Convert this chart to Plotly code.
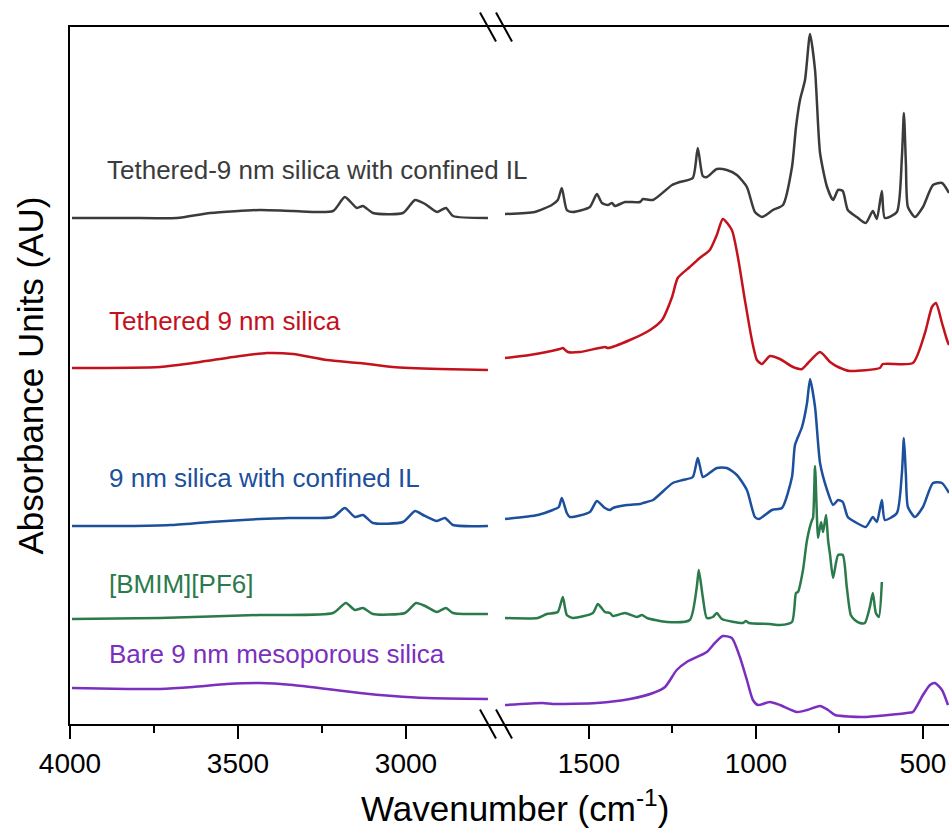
import plotly.graph_objects as go

# FTIR spectra, stacked with vertical offsets (arbitrary absorbance units).
# Wavenumbers in cm^-1; the axis is broken between the C-H region and the fingerprint region.

tethered_il_wn = [3994, 3830, 3682, 3583, 3435, 3336, 3217, 3182, 3146, 3128, 3098, 3009, 2973, 2943, 2908, 2881, 2860, 2756,
                  1751, 1662, 1611, 1593, 1581, 1566, 1548, 1497, 1476, 1461, 1443, 1431, 1422, 1392, 1347, 1338, 1308, 1251,
                  1228, 1189, 1174, 1159, 1147, 1117, 1087, 1057, 1027, 1003, 982, 949, 919, 892, 880, 868, 853, 838, 823,
                  808, 787, 769, 754, 740, 725, 698, 671, 650, 638, 623, 614, 578, 563, 557, 551, 545, 524, 500, 470, 443, 422]
tethered_il_abs = [5.06, 5.06, 5.06, 5.11, 5.14, 5.13, 5.13, 5.27, 5.16, 5.18, 5.11, 5.11, 5.24, 5.20, 5.12, 5.16, 5.08, 5.06,
                   5.10, 5.12, 5.19, 5.24, 5.36, 5.14, 5.12, 5.17, 5.30, 5.21, 5.19, 5.21, 5.18, 5.22, 5.22, 5.25, 5.24, 5.39,
                   5.42, 5.46, 5.76, 5.48, 5.47, 5.55, 5.54, 5.49, 5.37, 5.12, 5.07, 5.14, 5.19, 5.57, 5.97, 6.24, 6.44, 6.90, 6.54,
                   5.71, 5.37, 5.24, 5.34, 5.33, 5.14, 5.07, 5.01, 5.13, 5.05, 5.33, 5.06, 5.12, 5.67, 6.11, 5.60, 5.17, 5.07, 5.17,
                   5.39, 5.41, 5.31]

tethered_wn = [3994, 3732, 3613, 3515, 3414, 3336, 3235, 3137, 3039, 2899, 2756,
               1751, 1677, 1587, 1578, 1563, 1527, 1452, 1443, 1377, 1317, 1281, 1251, 1234, 1198, 1168, 1138, 1117, 1099,
               1072, 1054, 1033, 1012, 997, 982, 958, 928, 889, 862, 844, 808, 778, 754, 719, 629, 620, 530, 494, 473, 461,
               443, 428, 422]
tethered_abs = [3.56, 3.57, 3.62, 3.67, 3.71, 3.70, 3.64, 3.61, 3.57, 3.55, 3.54,
                3.66, 3.69, 3.75, 3.76, 3.72, 3.72, 3.77, 3.76, 3.84, 3.94, 4.04, 4.27, 4.46, 4.57, 4.66, 4.74, 4.89, 5.05,
                4.94, 4.67, 4.24, 3.84, 3.64, 3.60, 3.68, 3.65, 3.57, 3.55, 3.61, 3.72, 3.62, 3.57, 3.53, 3.56, 3.60, 3.61, 3.91,
                4.17, 4.21, 4.01, 3.84, 3.79]

silica_il_wn = [3994, 3830, 3702, 3583, 3435, 3336, 3217, 3182, 3152, 3128, 3098, 3009, 2973, 2949, 2908, 2884, 2860, 2756,
                1751, 1653, 1608, 1590, 1581, 1566, 1557, 1497, 1476, 1452, 1437, 1428, 1386, 1347, 1338, 1308, 1249, 1219,
                1189, 1174, 1159, 1147, 1117, 1087, 1057, 1027, 1003, 991, 952, 922, 892, 883, 862, 847, 838, 823, 808, 787,
                769, 754, 740, 725, 698, 671, 650, 638, 623, 614, 578, 563, 557, 551, 545, 524, 500, 470, 443, 422]
silica_il_abs = [1.98, 1.98, 1.99, 2.02, 2.05, 2.06, 2.07, 2.16, 2.07, 2.09, 2.01, 2.02, 2.13, 2.09, 2.03, 2.06, 1.99, 1.98,
                 2.05, 2.09, 2.14, 2.17, 2.26, 2.11, 2.07, 2.12, 2.23, 2.16, 2.14, 2.16, 2.19, 2.20, 2.21, 2.24, 2.41, 2.44,
                 2.47, 2.66, 2.47, 2.49, 2.56, 2.56, 2.49, 2.34, 2.07, 2.05, 2.14, 2.16, 2.47, 2.79, 2.97, 3.21, 3.45, 3.17, 2.61,
                 2.34, 2.19, 2.24, 2.22, 2.07, 2.01, 1.97, 2.07, 2.02, 2.24, 2.04, 2.11, 2.51, 2.86, 2.49, 2.17, 2.07, 2.17,
                 2.41, 2.41, 2.31]

bmim_wn = [3994, 3732, 3435, 3217, 3179, 3152, 3128, 3098, 3003, 2970, 2943, 2908, 2881, 2860, 2756,
           1751, 1653, 1626, 1593, 1578, 1566, 1548, 1488, 1473, 1452, 1437, 1428, 1392, 1356, 1341, 1326, 1266, 1198,
           1177, 1171, 1159, 1147, 1129, 1117, 1102, 1039, 1030, 1021, 958, 928, 892, 880, 874, 859, 847, 832, 829, 823,
           817, 814, 805, 799, 790, 784, 778, 769, 754, 740, 728, 716, 704, 689, 674, 659, 650, 641, 632, 623]
bmim_abs = [1.05, 1.06, 1.09, 1.11, 1.21, 1.14, 1.16, 1.10, 1.11, 1.21, 1.18, 1.12, 1.16, 1.11, 1.10,
            1.06, 1.06, 1.10, 1.12, 1.27, 1.09, 1.06, 1.11, 1.20, 1.12, 1.11, 1.08, 1.11, 1.07, 1.09, 1.06, 1.02, 1.04,
            1.37, 1.54, 1.27, 1.06, 1.07, 1.11, 1.05, 1.01, 1.03, 1.01, 1.00, 0.99, 1.02, 1.31, 1.32, 1.54, 1.84, 2.04, 2.06,
            2.58, 2.04, 1.86, 2.02, 1.92, 2.09, 1.84, 1.69, 1.46, 1.69, 1.69, 1.37, 1.09, 1.04, 1.01, 1.01, 1.17, 1.31, 1.11,
            1.07, 1.42]

bare_wn = [3994, 3830, 3732, 3634, 3533, 3435, 3336, 3235, 3137, 3039, 2938, 2756,
           1751, 1638, 1608, 1476, 1377, 1308, 1272, 1237, 1207, 1147, 1123, 1099, 1072, 1048, 1027, 1009, 994, 958,
           928, 877, 847, 808, 784, 763, 680, 548, 530, 500, 479, 464, 443, 425]
bare_abs = [0.36, 0.35, 0.35, 0.37, 0.40, 0.41, 0.39, 0.35, 0.31, 0.28, 0.26, 0.25,
            0.19, 0.21, 0.20, 0.21, 0.25, 0.31, 0.37, 0.54, 0.62, 0.72, 0.81, 0.88, 0.86, 0.67, 0.44, 0.24, 0.19, 0.22,
            0.19, 0.12, 0.14, 0.18, 0.14, 0.09, 0.07, 0.11, 0.12, 0.29, 0.39, 0.41, 0.34, 0.19]

sample_names = ["Tethered-9 nm silica with confined IL", "Tethered 9 nm silica", "9 nm silica with confined IL",
                "[BMIM][PF6]", "Bare 9 nm mesoporous silica"]
sample_colors = ["#3b3b3b", "#c3121c", "#1c4f9c", "#2b7a4b", "#7b2fbe"]
sample_wn = [tethered_il_wn, tethered_wn, silica_il_wn, bmim_wn, bare_wn]
sample_abs = [tethered_il_abs, tethered_abs, silica_il_abs, bmim_abs, bare_abs]

high_ticks = [4000, 3500, 3000]
high_minor = [3750, 3250]
low_ticks = [1500, 1000, 500]
low_minor = [1250, 750]

FONT = "Liberation Sans, Arial, sans-serif"
W, H = 949, 835
ML, MR, MT, MB = 70, 0, 27, 111
PW, PH = W - ML - MR, H - MT - MB


def px(x):
    return (x - ML) / PW


def py(y):
    return (H - MB - y) / PH


split = px(496)

fig = go.Figure()
for name, color, wn, ab in zip(sample_names, sample_colors, sample_wn, sample_abs):
    hi = [(w, a) for w, a in zip(wn, ab) if w > 2000]
    lo = [(w, a) for w, a in zip(wn, ab) if w <= 2000]
    for seg, xa in ((hi, "x"), (lo, "x2")):
        fig.add_trace(go.Scatter(x=[p[0] for p in seg], y=[p[1] for p in seg], mode="lines", name=name,
                                 line=dict(color=color, width=2.5, shape="spline", smoothing=0.6),
                                 xaxis=xa, yaxis="y", showlegend=False))

axis_common = dict(showline=True, linecolor="black", linewidth=2, mirror=True, showgrid=False, zeroline=False,
                   ticks="outside", ticklen=13, tickwidth=2, tickcolor="black",
                   tickfont=dict(family=FONT, size=28, color="black"))

fig.update_layout(
    width=W, height=H,
    margin=dict(l=ML, r=MR, t=MT, b=MB),
    paper_bgcolor="white", plot_bgcolor="white",
    xaxis=dict(domain=[0, split], range=[4000, 2732], tickmode="array", tickvals=high_ticks,
               minor=dict(tickmode="array", tickvals=high_minor, ticks="outside", ticklen=7, tickwidth=2,
                          tickcolor="black"),
               anchor="y", **axis_common),
    xaxis2=dict(domain=[split, 1], range=[1778, 422], tickmode="array", tickvals=low_ticks,
                minor=dict(tickmode="array", tickvals=low_minor, ticks="outside", ticklen=7, tickwidth=2,
                           tickcolor="black"),
                anchor="y", **axis_common),
    yaxis=dict(range=[0, 6.97], showline=True, linecolor="black", linewidth=2, showgrid=False, zeroline=False,
               showticklabels=False, ticks=""),
)

# sample labels
label_pos = [(105, 170), (107, 321), (107, 478), (107, 584), (107, 654)]
for name, color, (lx, ly) in zip(sample_names, sample_colors, label_pos):
    fig.add_annotation(text=name, x=px(lx), y=py(ly), xref="paper", yref="paper", xanchor="left",
                       yanchor="middle", showarrow=False, font=dict(family=FONT, size=26, color=color))

# axis titles
fig.add_annotation(text="Wavenumber (cm<sup>-1</sup>)", x=px(515), y=py(806), xref="paper", yref="paper",
                   xanchor="center", yanchor="middle", showarrow=False,
                   font=dict(family=FONT, size=35, color="black"))
fig.add_annotation(text="Absorbance Units (AU)", x=px(30), y=0.5, xref="paper", yref="paper",
                   xanchor="center", yanchor="middle", textangle=-90, showarrow=False,
                   font=dict(family=FONT, size=35, color="black"))

# axis-break marks on the top and bottom spines
for yc in (27, 724):
    for x0 in (480, 496):
        fig.add_shape(type="line", xref="paper", yref="paper",
                      x0=px(x0), y0=py(yc - 14.5), x1=px(x0 + 16), y1=py(yc + 14.5),
                      line=dict(color="black", width=2))

fig.write_html("out.html")
